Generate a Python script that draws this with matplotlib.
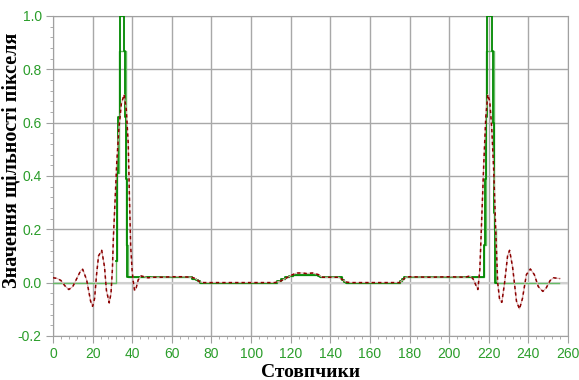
import numpy as np
import matplotlib
matplotlib.use("Agg")
import matplotlib.pyplot as plt
from matplotlib.ticker import MultipleLocator

# full pixel profile (pale green step line): edge positions and levels
light_x = [0, 31.8, 32.2, 33.3, 36.7, 37.9, 70, 72, 73, 74, 113, 115, 117, 119, 121,
           134, 135, 146, 147, 148, 175, 176, 177, 217.7, 218.5, 222.4, 223.6, 255.6]
light_y = [0.0, 0.08, 0.41, 0.87, 0.14, 0.02, 0.015, 0.01, 0.005, 0.0, 0.005, 0.012, 0.02, 0.026, 0.03,
           0.025, 0.02, 0.01, 0.004, 0.0, 0.007, 0.014, 0.02, 0.14, 0.87, 0.2, 0.0, 0.0]

# object profile (dark green step line)
dark_x = [31.8, 32.2, 33.0, 34.0, 36.0, 36.5, 37.0, 37.5, 70, 72, 73, 74, 113, 115, 117, 119, 121,
          134, 135, 146, 147, 148, 175, 176, 177, 217.7, 218.2, 218.6, 219.2, 221.6, 222.1, 222.7, 223.1, 224]
dark_y = [0.08, 0.41, 0.62, 1.0, 0.87, 0.62, 0.39, 0.02, 0.015, 0.01, 0.005, 0.0, 0.005, 0.012, 0.02, 0.026, 0.03,
          0.025, 0.02, 0.01, 0.004, 0.0, 0.007, 0.014, 0.02, 0.14, 0.39, 0.62, 1.0, 0.87, 0.6, 0.26, 0.0, 0.0]

# filtered profile (dark red dotted curve)
red_x = [0, 2, 4, 6, 8, 10, 12, 14, 15, 17, 19, 20, 21, 22, 23, 24.6, 26, 27, 28.4, 29.3, 30, 30.5,
         31.3, 32.2, 33.3, 34.5, 35.9, 37, 38, 38.6, 39.2, 40, 40.6, 41.2, 42, 43, 44.5, 46, 48, 50,
         55, 60, 65, 70, 72, 74, 76, 80, 100, 112, 115, 118, 121, 123, 126, 128, 131, 134, 136, 144,
         146, 148, 150, 175, 178, 180, 190, 200, 208, 210.5, 212, 214.5, 215.5, 216.5, 217.5, 218.5,
         219.5, 220.5, 221.5, 222.5, 223.5, 224.5, 225.5, 226.6, 228, 229.5, 230.5, 232, 234, 235.5,
         237, 239, 241, 243, 245, 247.3, 249, 251, 252.7, 256]
red_y = [0.018, 0.016, 0.008, -0.012, -0.026, -0.015, 0.015, 0.045, 0.05, 0.01, -0.07, -0.089, -0.06, 0.03,
         0.10, 0.121, 0.06, -0.03, -0.076, -0.04, 0.05, 0.17, 0.3, 0.45, 0.58, 0.67, 0.705, 0.65, 0.52, 0.32,
         0.14, 0.04, 0.0, -0.03, -0.02, 0.01, 0.025, 0.022, 0.018, 0.02, 0.02, 0.022, 0.022, 0.02, 0.015,
         0.003, 0.0, 0.0, 0.0, 0.0, 0.006, 0.018, 0.03, 0.036, 0.036, 0.034, 0.036, 0.03, 0.02, 0.02, 0.012,
         0.002, 0.0, 0.0, 0.02, 0.022, 0.02, 0.022, 0.02, 0.025, 0.015, -0.026, 0.05, 0.25, 0.45, 0.62,
         0.705, 0.68, 0.58, 0.42, 0.2, 0.0, -0.065, -0.074, 0.0, 0.1, 0.121, 0.06, -0.07, -0.099, -0.06,
         0.03, 0.051, 0.03, -0.015, -0.033, -0.02, 0.008, 0.018, 0.015]

xticks = np.arange(0, 261, 20)
yticks = [-0.2, 0.0, 0.2, 0.4, 0.6, 0.8, 1.0]

fig = plt.figure(figsize=(5.79, 3.80), dpi=100)
ax = fig.add_axes([0.0915, 0.116, 0.8895, 0.842])

ax.plot(light_x, light_y, drawstyle="steps-post", color="#66bb66", lw=1.0, zorder=3)
ax.plot(dark_x, dark_y, drawstyle="steps-post", color="#008800", lw=1.3, zorder=4)
ax.plot(red_x, red_y, color="#dcb0b0", lw=0.8, zorder=5)
ax.plot(red_x, red_y, color="#8b0000", lw=1.1, ls=(0, (2.2, 2.0)), zorder=6)

ax.set_xlim(0, 260)
ax.set_ylim(-0.2, 1.0)
ax.set_xticks(xticks)
ax.set_yticks(yticks)
ax.set_yticklabels([f"{v:.1f}" for v in yticks])
ax.xaxis.set_minor_locator(MultipleLocator(4))
ax.yaxis.set_minor_locator(MultipleLocator(0.04))
ax.grid(True, which="major", color="#a8a8a8", lw=1.0, zorder=1)
ax.axhline(0, color="#d0d0d0", lw=1.5, zorder=2)

for s in ax.spines.values():
    s.set_color("#a0a0a0")
ax.tick_params(which="major", length=5, color="#a0a0a0", labelcolor="#2a9d2a",
               labelsize=10, pad=3)
ax.tick_params(which="minor", length=2.5, color="#a0a0a0")
for lab in ax.get_xticklabels() + ax.get_yticklabels():
    lab.set_family("Liberation Sans")

ax.set_xlabel("Стовпчики", family="Liberation Serif", weight="bold", fontsize=14, labelpad=2)
ax.set_ylabel("Значення щільності пікселя", family="Liberation Serif", weight="bold",
              fontsize=14.5)
ax.yaxis.set_label_coords(-0.062, 0.55)

fig.savefig("out.png", dpi=100)
